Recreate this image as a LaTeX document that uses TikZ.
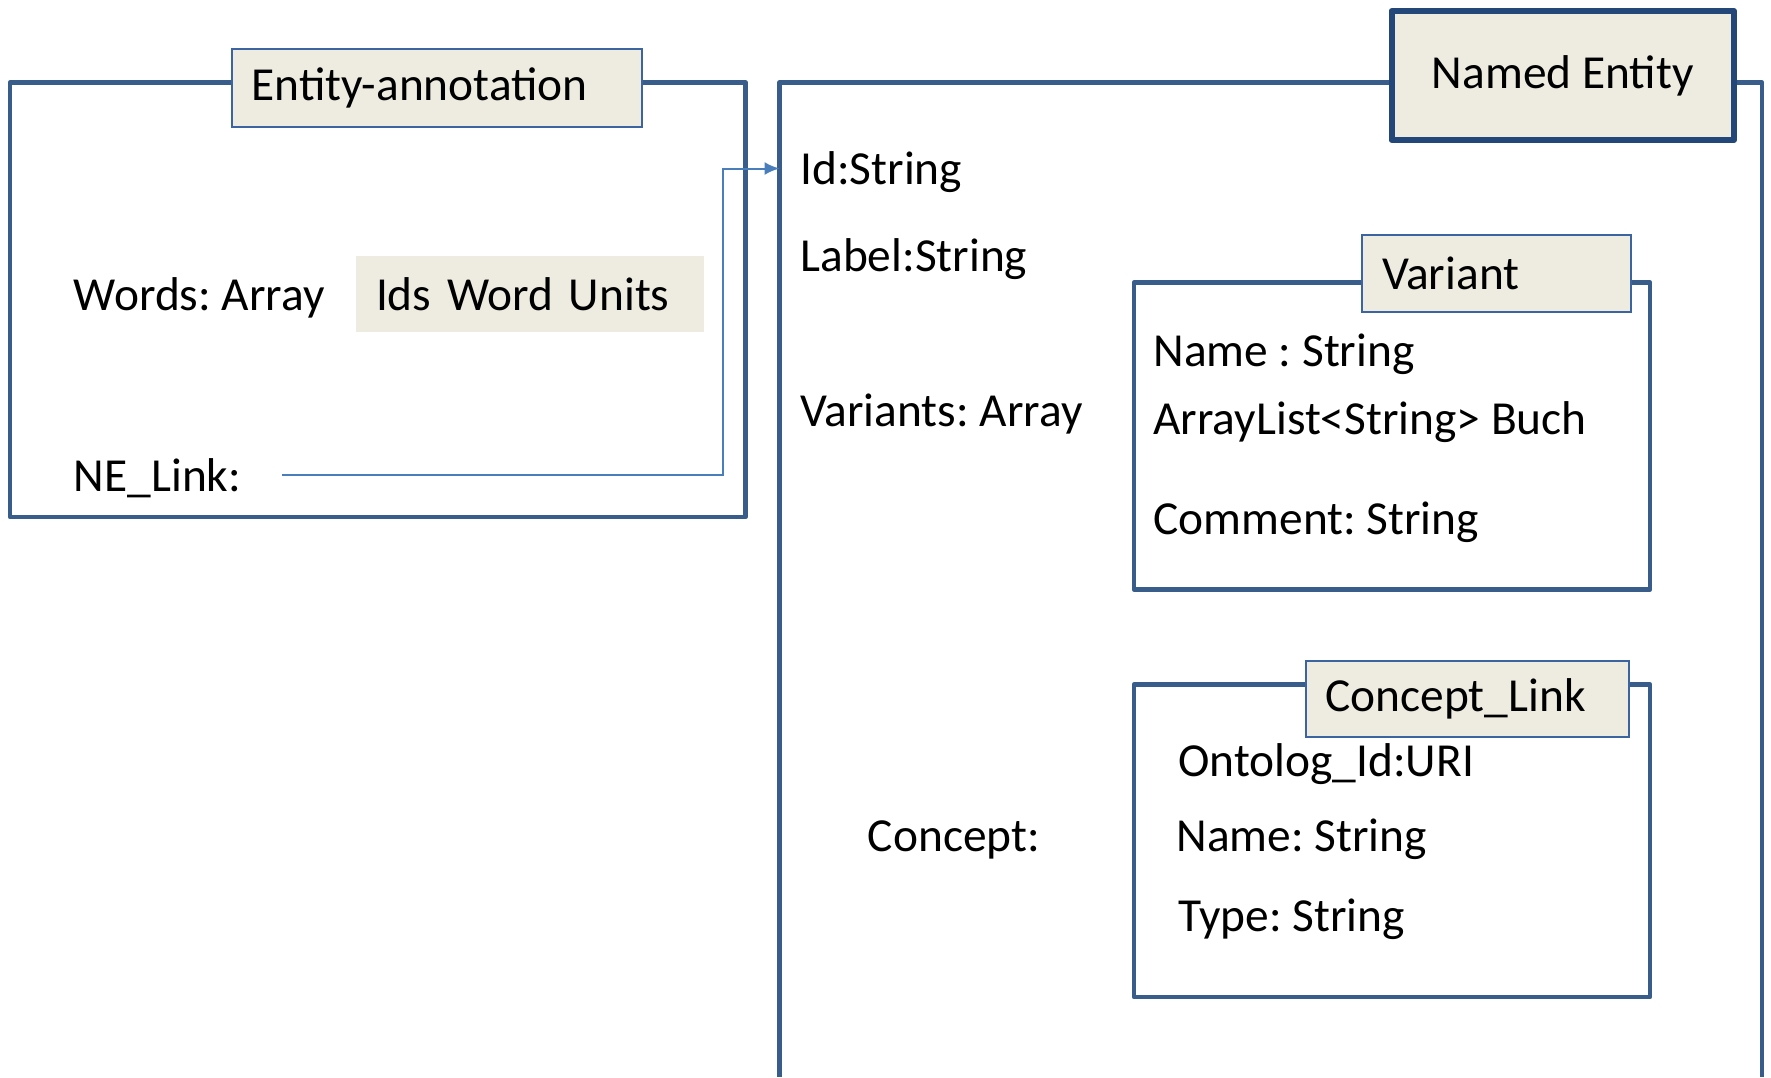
\documentclass[tikz,border=0pt]{standalone}
\usepackage{fontspec}
\setmainfont{Carlito}
\usetikzlibrary{arrows.meta}
\definecolor{frameblue}{HTML}{385D8A}
\definecolor{darkblue}{HTML}{24477A}
\definecolor{thinblue}{HTML}{3C64A0}
\definecolor{linkblue}{HTML}{4A7EBB}
\definecolor{beige}{HTML}{EEECE1}
\tikzset{
  frame/.style={draw=frameblue, line width=2.25pt, line join=round},
  titlebox/.style={draw=thinblue, fill=beige, line width=1pt, inner xsep=10pt, inner ysep=0pt, align=left},
  bigtitle/.style={draw=darkblue, fill=beige, line width=3pt, line join=round, inner sep=0pt, align=center},
  plainbox/.style={fill=beige, inner xsep=10pt, inner ysep=0pt, align=left},
  lbl/.style={anchor=mid west, inner sep=0pt},
  conn/.style={draw=linkblue, line width=1pt, -{Latex[length=7.5pt,width=6.5pt]}},
  every node/.style={font=\fontsize{23.7}{28}\selectfont\frenchspacing}
}
\begin{document}
\begin{tikzpicture}[x=0.5pt,y=-0.5pt]
\useasboundingbox[fill=white] (0,0) rectangle (1771,1077);

% Entity-annotation frame
\draw[frame] (10,82.5) rectangle (745.5,517);
\node[titlebox, text width=185pt, minimum height=39pt] (ea) at (436.5,87.5) {\lower1.5pt\hbox{Entity-annotation}};
\node[lbl] (words) at (73.5,306) {Words: Array};
\node[plainbox, text width=154pt, minimum height=38pt] (ids) at (530,294) {Ids Word Units};
\node[lbl] (nelink) at (73.5,487) {NE\_Link:};

% Named Entity frame
\draw[frame] (779.5,1077) -- (779.5,82.5) -- (1762,82.5) -- (1762,1077);
\node[bigtitle, minimum width=171.25pt, minimum height=64.5pt] (ne) at (1562.75,75.5) {\lower1pt\hbox{Named Entity}};
\node[lbl] (id) at (800,180) {Id:String};
\node[lbl] (label) at (800,267) {Label:String};
\node[lbl] (variants) at (800,422) {Variants: Array};
\node[lbl] (concept) at (867.5,847) {Concept:};

% Variant frame
\draw[frame] (1134,282.5) rectangle (1650,589.5);
\node[titlebox, text width=114.5pt, minimum height=38.5pt] (variant) at (1496.5,273.5) {Variant};
\node[lbl] (vname) at (1153,362) {Name : String};
\node[lbl] (vlist) at (1153,430) {ArrayList<String> Buch};
\node[lbl] (vcomment) at (1153,529.5) {Comment: String};

% Concept_Link frame
\draw[frame] (1134,684.5) rectangle (1650,997);
\node[titlebox, text width=141.75pt, minimum height=38.25pt] (clink) at (1467.25,699) {\lower1pt\hbox{Concept\_Link}};
\node[lbl] (onto) at (1178,772) {Ontolog\_Id:URI};
\node[lbl] (cname) at (1176,847) {Name: String};
\node[lbl] (ctype) at (1178,927) {Type: String};

% connector NE_Link -> Id
\coordinate (lkstart) at (282,474.5);
\coordinate (lkend) at (779.5,168.5);
\draw[conn] (lkstart) -- (723,474.5) |- (lkend);
\end{tikzpicture}
\end{document}
